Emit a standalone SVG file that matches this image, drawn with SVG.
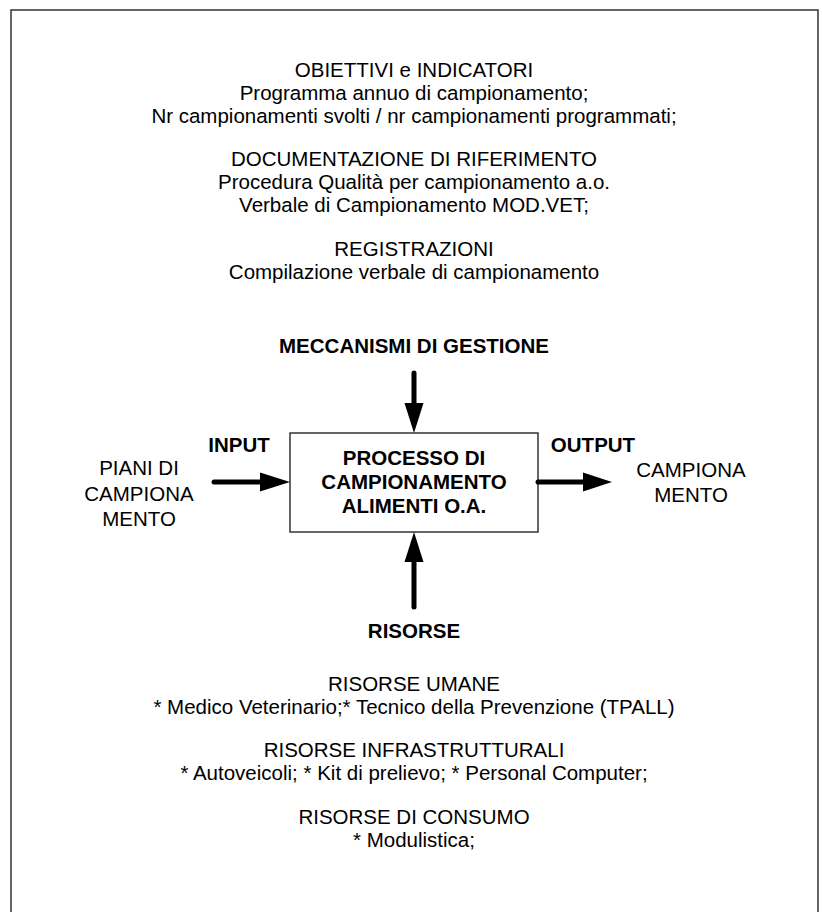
<svg xmlns="http://www.w3.org/2000/svg" width="822" height="912" viewBox="0 0 822 912">
  <style>
    .txt { font-family: "Liberation Sans", Arial, sans-serif; font-size: 20.5px; fill: #000; text-anchor: middle; }
    .bold { font-family: "Liberation Sans", Arial, sans-serif; font-size: 20.5px; font-weight: bold; fill: #000; text-anchor: middle; }
    .frame { fill: #fff; stroke: #333; stroke-width: 1.5; }
    .shaft { stroke: #000; stroke-width: 5; stroke-linecap: round; fill: none; }
    .head { fill: #000; }
  </style>

  <rect width="822" height="912" fill="#fff"/>
  <!-- outer frame, open at the bottom edge of the page -->
  <path class="frame" d="M11,930 V10 H818 V930"/>

  <!-- objectives, documentation and records -->
  <g id="info-top">
    <text class="txt" x="414" y="77">OBIETTIVI e INDICATORI</text>
    <text class="txt" x="414" y="100">Programma annuo di campionamento;</text>
    <text class="txt" x="414" y="123">Nr campionamenti svolti / nr campionamenti programmati;</text>
    <text class="txt" x="414" y="166">DOCUMENTAZIONE DI RIFERIMENTO</text>
    <text class="txt" x="414" y="189">Procedura Qualità per campionamento a.o.</text>
    <text class="txt" x="414" y="212">Verbale di Campionamento MOD.VET;</text>
    <text class="txt" x="414" y="256">REGISTRAZIONI</text>
    <text class="txt" x="414" y="279">Compilazione verbale di campionamento</text>
  </g>

  <g id="controls">
    <text class="bold" x="414" y="353">MECCANISMI DI GESTIONE</text>
  </g>

  <g id="process">
    <rect class="frame" x="290" y="433" width="248" height="99"/>
    <text class="bold" x="414" y="465">PROCESSO DI</text>
    <text class="bold" x="414" y="489">CAMPIONAMENTO</text>
    <text class="bold" x="414" y="513">ALIMENTI O.A.</text>
  </g>

  <g id="input">
    <text class="bold" x="239" y="452">INPUT</text>
    <text class="txt" x="139" y="475">PIANI DI</text>
    <text class="txt" x="139" y="501">CAMPIONA</text>
    <text class="txt" x="139" y="526">MENTO</text>
  </g>

  <g id="output">
    <text class="bold" x="593" y="452">OUTPUT</text>
    <text class="txt" x="691" y="477">CAMPIONA</text>
    <text class="txt" x="691" y="502">MENTO</text>
  </g>

  <g id="resources">
    <text class="bold" x="414" y="638">RISORSE</text>
  </g>

  <g id="info-bottom">
    <text class="txt" x="414" y="691">RISORSE UMANE</text>
    <text class="txt" x="414" y="714">* Medico Veterinario;* Tecnico della Prevenzione (TPALL)</text>
    <text class="txt" x="414" y="757">RISORSE INFRASTRUTTURALI</text>
    <text class="txt" x="414" y="780">* Autoveicoli; * Kit di prelievo; * Personal Computer;</text>
    <text class="txt" x="414" y="824">RISORSE DI CONSUMO</text>
    <text class="txt" x="414" y="847">* Modulistica;</text>
  </g>

  <g id="connectors">
    <!-- controls into the process -->
    <line class="shaft" x1="414" y1="373" x2="414" y2="404"/>
    <polygon class="head" points="404.5,403 423.5,403 414,433"/>
    <!-- input into the process -->
    <line class="shaft" x1="214" y1="482" x2="262" y2="482"/>
    <polygon class="head" points="260,472.5 260,491.5 290,482"/>
    <!-- output from the process -->
    <line class="shaft" x1="538" y1="482" x2="585" y2="482"/>
    <polygon class="head" points="583,472.5 583,491.5 612,482"/>
    <!-- resources into the process -->
    <line class="shaft" x1="414" y1="607" x2="414" y2="560"/>
    <polygon class="head" points="404.5,562 423.5,562 414,532"/>
  </g>
</svg>
